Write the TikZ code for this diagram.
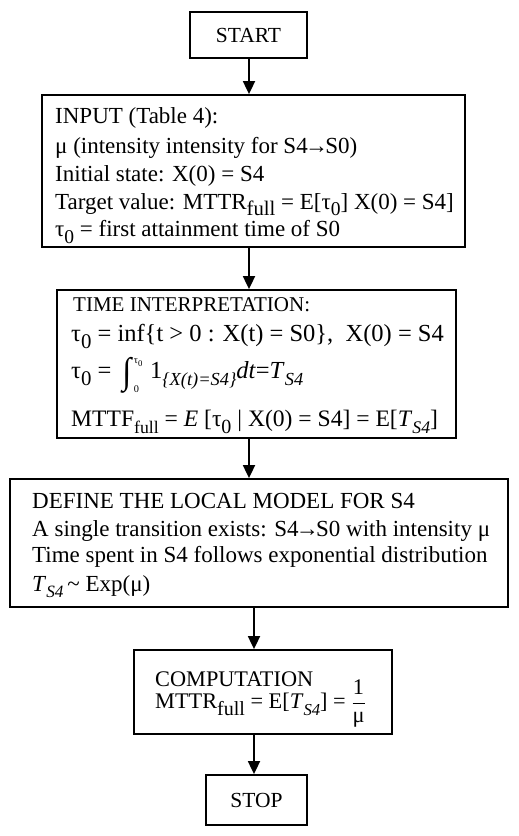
\documentclass[tikz,border=0pt]{standalone}
\usepackage{amsmath}
\usepackage{graphicx}
\usepackage{fontspec}
\setmainfont{Liberation Serif}
\usetikzlibrary{arrows.meta}
\newcommand\dn[2][0.85]{\raisebox{-0.3em}{\scalebox{#1}{#2}}}
\newcommand\tz{τ\dn{0}}
\newcommand\ar{\kern-0.12em→\kern-0.12em}
\begin{document}
\begin{tikzpicture}[x=1pt,y=-1pt,
  box/.style={draw,line width=1.8pt,inner sep=0pt,fill=white},
  txt/.style={anchor=base west,inner sep=0pt},
  arr/.style={line width=1.8pt,-{Triangle[length=13pt,width=12pt]}}]
\useasboundingbox (0,0) rectangle (519,836);
% boxes
\node[box,minimum width=117pt,minimum height=46pt,font=\fontsize{21.5}{25}\selectfont] (start) at (248.5,35) {START};
\node[box,minimum width=423pt,minimum height=152pt] (input) at (253.5,171) {};
\node[box,minimum width=399pt,minimum height=148pt] (time) at (256.5,364) {};
\node[box,minimum width=498pt,minimum height=128pt] (define) at (259,543) {};
\node[box,minimum width=258pt,minimum height=84pt] (comp) at (263,692) {};
\node[box,minimum width=101pt,minimum height=50pt,font=\fontsize{21.5}{25}\selectfont] (stop) at (256.5,800) {STOP};
% INPUT text
\begin{scope}[every node/.style={txt,font=\fontsize{23}{28}\selectfont}]
\node (i1) at (55,123.5) {INPUT (Table 4):};
\node (i2) at (55,153) {μ (intensity intensity for S4\ar S0)};
\node (i3) at (55,181) {Initial state: X(0) = S4};
\node (i4) at (55,209) {Target value: MTTR\dn[0.9]{full} = E[\tz] X(0) = S4]};
\node (i5) at (55,236.5) {\tz{} = first attainment time of S0};
\end{scope}
% TIME text
\node[txt,font=\fontsize{21}{25}\selectfont] (t1) at (73,311.5) {TIME INTERPRETATION:};
\begin{scope}[every node/.style={txt,font=\fontsize{24.5}{28}\selectfont}]
\node (t2) at (71,341.5) {\tz{} = inf\{t > 0 : X(t) = S0\},\ \ X(0) = S4};
\node (t3) at (71,378) {\tz{} = \hspace{0.2em}\raisebox{-15pt}{\resizebox*{9pt}{36pt}{\raisebox{\depth}{∫}}}\hspace{2.5pt}\makebox[0pt][l]{\raisebox{15pt}{\scalebox{0.42}{\tz}}}\raisebox{-14pt}{\scalebox{0.42}{0}}\hspace{0.45em}1\dn[0.75]{\textit{\{X(t)=S4\}}}\textit{dt}=\textit{T}\dn[0.75]{\textit{S4}}};
\end{scope}
\node[txt,font=\fontsize{23.6}{28}\selectfont] (t4) at (71,426.5) {MTTF\dn[0.75]{full} = \textit{E} [\tz{} | X(0) = S4] = E[\textit{T}\dn[0.75]{\textit{S4}}]};
% DEFINE text
\begin{scope}[every node/.style={txt,font=\fontsize{23}{28}\selectfont}]
\node (d1) at (32,508.5) {DEFINE THE LOCAL MODEL FOR S4};
\node (d2) at (32,536) {A single transition exists: S4\ar S0 with intensity μ};
\node (d3) at (32,562.5) {Time spent in S4 follows exponential distribution};
\node (d4) at (32,591) {\textit{T}\dn[0.75]{\textit{S4}}\,\textasciitilde\ Exp(μ)};
\end{scope}
% COMPUTATION text
\begin{scope}[every node/.style={txt,font=\fontsize{22.3}{27}\selectfont}]
\node (c1) at (155,686.5) {COMPUTATION};
\node (c2) at (155,708.5) {MTTR\dn[0.9]{full} = E[\textit{T}\dn[0.75]{\textit{S4}}] = $\dfrac{\mbox{1}}{\mbox{μ}}$};
\end{scope}
% arrows
\coordinate (ax) at (249,0);
\coordinate (bx) at (254,0);
\draw[arr] (start.south -| ax) -- (input.north -| ax);
\draw[arr] (input.south -| ax) -- (time.north -| ax);
\draw[arr] (time.south -| ax) -- (define.north -| ax);
\draw[arr] (define.south -| bx) -- (comp.north -| bx);
\draw[arr] (comp.south -| bx) -- (stop.north -| bx);
\end{tikzpicture}
\end{document}
